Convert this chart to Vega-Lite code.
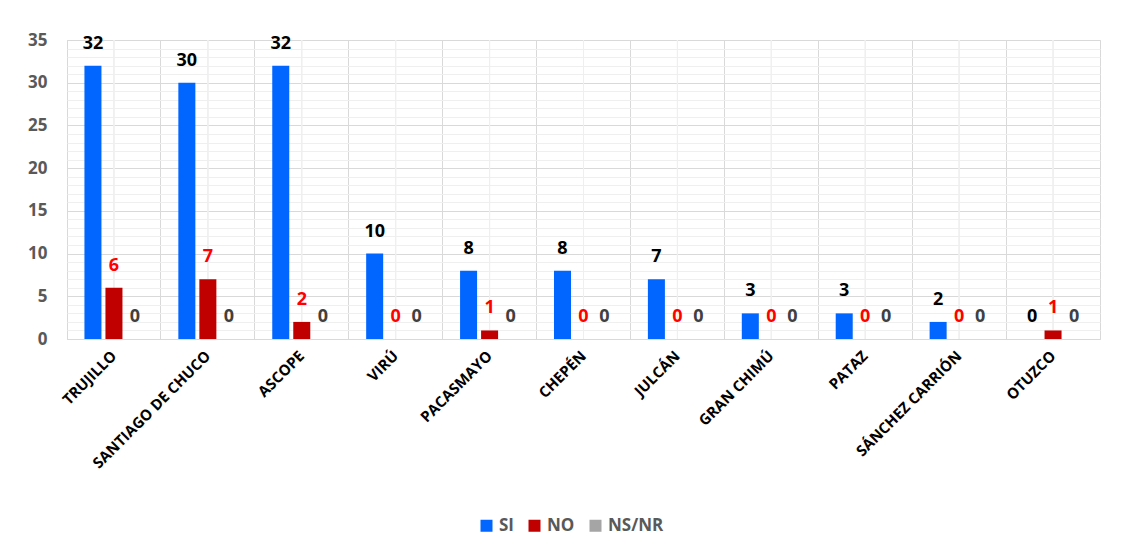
{
  "$schema": "https://vega.github.io/schema/vega-lite/v6.json",
  "width": 1033,
  "height": 299,
  "autosize": {"type": "none"},
  "padding": {"left": 67, "top": 40, "right": 23, "bottom": 213},
  "background": "white",
  "config": {
    "view": {"stroke": "#d9d9d9", "strokeWidth": 1},
    "font": "Open Sans"
  },
  "data": {
    "values": [
      {"prov": "TRUJILLO", "resp": "SI", "n": 32},
      {"prov": "TRUJILLO", "resp": "NO", "n": 6},
      {"prov": "TRUJILLO", "resp": "NS/NR", "n": 0},
      {"prov": "SANTIAGO DE CHUCO", "resp": "SI", "n": 30},
      {"prov": "SANTIAGO DE CHUCO", "resp": "NO", "n": 7},
      {"prov": "SANTIAGO DE CHUCO", "resp": "NS/NR", "n": 0},
      {"prov": "ASCOPE", "resp": "SI", "n": 32},
      {"prov": "ASCOPE", "resp": "NO", "n": 2},
      {"prov": "ASCOPE", "resp": "NS/NR", "n": 0},
      {"prov": "VIRÚ", "resp": "SI", "n": 10},
      {"prov": "VIRÚ", "resp": "NO", "n": 0},
      {"prov": "VIRÚ", "resp": "NS/NR", "n": 0},
      {"prov": "PACASMAYO", "resp": "SI", "n": 8},
      {"prov": "PACASMAYO", "resp": "NO", "n": 1},
      {"prov": "PACASMAYO", "resp": "NS/NR", "n": 0},
      {"prov": "CHEPÉN", "resp": "SI", "n": 8},
      {"prov": "CHEPÉN", "resp": "NO", "n": 0},
      {"prov": "CHEPÉN", "resp": "NS/NR", "n": 0},
      {"prov": "JULCÁN", "resp": "SI", "n": 7},
      {"prov": "JULCÁN", "resp": "NO", "n": 0},
      {"prov": "JULCÁN", "resp": "NS/NR", "n": 0},
      {"prov": "GRAN CHIMÚ", "resp": "SI", "n": 3},
      {"prov": "GRAN CHIMÚ", "resp": "NO", "n": 0},
      {"prov": "GRAN CHIMÚ", "resp": "NS/NR", "n": 0},
      {"prov": "PATAZ", "resp": "SI", "n": 3},
      {"prov": "PATAZ", "resp": "NO", "n": 0},
      {"prov": "PATAZ", "resp": "NS/NR", "n": 0},
      {"prov": "SÁNCHEZ CARRIÓN", "resp": "SI", "n": 2},
      {"prov": "SÁNCHEZ CARRIÓN", "resp": "NO", "n": 0},
      {"prov": "SÁNCHEZ CARRIÓN", "resp": "NS/NR", "n": 0},
      {"prov": "OTUZCO", "resp": "SI", "n": 0},
      {"prov": "OTUZCO", "resp": "NO", "n": 1},
      {"prov": "OTUZCO", "resp": "NS/NR", "n": 0}
    ]
  },
  "encoding": {
    "x": {
      "field": "prov",
      "type": "nominal",
      "sort": null,
      "scale": {"paddingInner": 0, "paddingOuter": 0},
      "axis": {
        "title": null,
        "labelAngle": -45,
        "labelAlign": "right",
        "labelBaseline": "middle",
        "labelFont": "Open Sans",
        "labelFontWeight": "bold",
        "labelFontSize": 15,
        "labelColor": "#000000",
        "labelPadding": 14,
        "labelLimit": 300,
        "labelOverlap": false,
        "ticks": false,
        "domain": false,
        "grid": true,
        "bandPosition": 0,
        "gridColor": "#d9d9d9",
        "gridWidth": 1
      }
    },
    "y": {
      "field": "n",
      "type": "quantitative",
      "scale": {"domain": [0, 35], "nice": false},
      "axis": {
        "title": null,
        "values": [0,1,2,3,4,5,6,7,8,9,10,11,12,13,14,15,16,17,18,19,20,21,22,23,24,25,26,27,28,29,30,31,32,33,34,35],
        "labelExpr": "datum.value % 5 === 0 ? datum.label : ''",
        "labelOverlap": false,
        "labelFont": "Open Sans",
        "labelFontWeight": "bold",
        "labelFontSize": 17,
        "labelColor": "#595959",
        "labelPadding": 20,
        "ticks": false,
        "domain": false,
        "grid": true,
        "gridColor": {"condition": {"test": "datum.value % 5 === 0", "value": "#d9d9d9"}, "value": "#efefef"},
        "gridWidth": 1
      }
    }
  },
  "layer": [
    {
      "mark": {"type": "rule", "color": "#efefef", "strokeWidth": 1},
      "encoding": {
        "y": {"datum": 0},
        "y2": {"datum": 35}
      }
    },
    {
      "mark": {"type": "bar"},
      "encoding": {
        "xOffset": {
          "field": "resp",
          "type": "nominal",
          "sort": ["SI", "NO", "NS/NR"],
          "scale": {"paddingInner": 0.19, "paddingOuter": 0.83}
        },
        "color": {
          "field": "resp",
          "type": "nominal",
          "sort": ["SI", "NO", "NS/NR"],
          "scale": {"domain": ["SI", "NO", "NS/NR"], "range": ["#0066ff", "#c00000", "#a5a5a5"]},
          "legend": {
            "title": null,
            "orient": "none",
            "direction": "horizontal",
            "legendX": 411,
            "legendY": 477,
            "symbolType": "square",
            "symbolSize": 144,
            "symbolStrokeWidth": 0,
            "symbolOpacity": 1,
            "labelFont": "Open Sans",
            "labelFontWeight": "bold",
            "labelFontSize": 17,
            "labelColor": "#595959",
            "labelOffset": 4,
            "columnPadding": 12
          }
        }
      }
    },
    {
      "mark": {"type": "text", "baseline": "alphabetic", "dy": -17, "font": "Open Sans", "fontWeight": "bold", "fontSize": 18},
      "encoding": {
        "xOffset": {
          "field": "resp",
          "type": "nominal",
          "sort": ["SI", "NO", "NS/NR"]
        },
        "text": {"field": "n", "type": "quantitative"},
        "color": {
          "condition": [
            {"test": "datum.resp === 'SI'", "value": "#000000"},
            {"test": "datum.resp === 'NO'", "value": "#ff0000"}
          ],
          "value": "#404040"
        }
      }
    }
  ]
}
